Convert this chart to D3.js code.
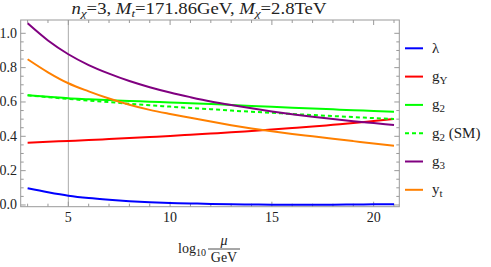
<!DOCTYPE html>
<html>
<head>
<meta charset="utf-8">
<script src="https://cdn.jsdelivr.net/npm/d3@7"></script>
<style>
  body { margin: 0; background: #fff; }
  svg text.lbl { font-family: "Liberation Serif"; }
</style>
</head>
<body>
<svg id="chart" width="491" height="267"></svg>
<script>
// log10(mu/GeV)
var xs = [3, 4, 5, 6, 7, 8, 9, 10, 11, 12, 13, 14, 15, 16, 17, 18, 19, 20, 21];

var lambda = [0.097, 0.074, 0.054, 0.040, 0.030, 0.022, 0.016, 0.012, 0.009, 0.006, 0.004, 0.003, 0.002, 0.002, 0.002, 0.002, 0.003, 0.004, 0.005];
var gY = [0.363, 0.368, 0.373, 0.378, 0.384, 0.390, 0.396, 0.402, 0.409, 0.416, 0.423, 0.431, 0.439, 0.448, 0.457, 0.467, 0.477, 0.489, 0.501];
var g2 = [0.639, 0.630, 0.621, 0.616, 0.611, 0.606, 0.602, 0.597, 0.593, 0.588, 0.583, 0.577, 0.572, 0.567, 0.562, 0.557, 0.552, 0.548, 0.543];
var g2SM = [0.639, 0.628, 0.618, 0.608, 0.599, 0.590, 0.581, 0.573, 0.565, 0.558, 0.550, 0.543, 0.537, 0.530, 0.524, 0.518, 0.512, 0.506, 0.501];
var g3 = [1.058, 0.958, 0.878, 0.815, 0.765, 0.722, 0.686, 0.655, 0.628, 0.603, 0.582, 0.563, 0.545, 0.529, 0.514, 0.501, 0.488, 0.477, 0.466];
var yt = [0.849, 0.773, 0.709, 0.662, 0.620, 0.584, 0.554, 0.530, 0.508, 0.486, 0.465, 0.446, 0.429, 0.414, 0.400, 0.386, 0.372, 0.358, 0.345];

var xTicks = [5, 10, 15, 20];
var yTicks = [0, 0.2, 0.4, 0.6, 0.8, 1.0];

var series = [
  { name: "λ", sub: "", extra: "", values: lambda, color: "#0000ff", dash: null },
  { name: "g", sub: "Y", extra: "", values: gY, color: "#ff0000", dash: null },
  { name: "g", sub: "2", extra: "", values: g2, color: "#00ff00", dash: null },
  { name: "g", sub: "2", extra: " (SM)", values: g2SM, color: "#00ff00", dash: "4,3" },
  { name: "g", sub: "3", extra: "", values: g3, color: "#800080", dash: null },
  { name: "y", sub: "t", extra: "", values: yt, color: "#ff8000", dash: null }
];

var svg = d3.select("#chart"),
  margin = { top: 20, left: 20.7, right: 399.3, bottom: 206.7 };

var x = d3.scaleLinear().domain([2.66, 21.26]).range([margin.left, margin.right]);
var y = d3.scaleLinear().domain([-0.01, 1.0775]).range([margin.bottom, margin.top]);

var frameColor = "#999";
var textColor = "#222";

// grid line at x = 5
svg.append("line")
  .attr("x1", x(5)).attr("x2", x(5))
  .attr("y1", margin.top).attr("y2", margin.bottom)
  .attr("stroke", "#aaa").attr("stroke-width", 1);

// frame ticks (inward, mirrored)
var xMinor = d3.range(3, 22, 1).filter(v => xTicks.indexOf(v) < 0);
var yMinor = d3.range(0, 21, 1).map(v => v * 0.05).filter(v => v % 0.2 > 0.01 && v % 0.2 < 0.19);

function tickLines(vals, len) {
  vals.forEach(function (v) {
    svg.append("line").attr("x1", x(v)).attr("x2", x(v))
      .attr("y1", margin.bottom).attr("y2", margin.bottom - len)
      .attr("stroke", frameColor);
    svg.append("line").attr("x1", x(v)).attr("x2", x(v))
      .attr("y1", margin.top).attr("y2", margin.top + len)
      .attr("stroke", frameColor);
  });
}
function tickLinesY(vals, len) {
  vals.forEach(function (v) {
    svg.append("line").attr("y1", y(v)).attr("y2", y(v))
      .attr("x1", margin.left).attr("x2", margin.left + len)
      .attr("stroke", frameColor);
    svg.append("line").attr("y1", y(v)).attr("y2", y(v))
      .attr("x1", margin.right).attr("x2", margin.right - len)
      .attr("stroke", frameColor);
  });
}
tickLines(xTicks, 5);
tickLines(xMinor, 3);
tickLinesY(yTicks, 5);
tickLinesY(yMinor, 3);

svg.append("rect")
  .attr("x", margin.left).attr("y", margin.top)
  .attr("width", margin.right - margin.left)
  .attr("height", margin.bottom - margin.top)
  .attr("fill", "none").attr("stroke", frameColor);

// tick labels
svg.selectAll(".xlab").data(xTicks).enter().append("text")
  .attr("class", "lbl")
  .attr("x", d => x(d)).attr("y", 222)
  .attr("text-anchor", "middle").attr("font-size", 14).attr("fill", textColor)
  .text(d => d);

svg.selectAll(".ylab").data(yTicks).enter().append("text")
  .attr("class", "lbl")
  .attr("x", 17).attr("y", d => y(d) + 4.5)
  .attr("text-anchor", "end").attr("font-size", 14).attr("fill", textColor)
  .text(d3.format(".1f"));

// curves
var line = d3.line()
  .curve(d3.curveMonotoneX)
  .x((d, i) => x(xs[i]))
  .y(d => y(d));

series.forEach(function (s) {
  svg.append("path")
    .attr("d", line(s.values))
    .attr("fill", "none")
    .attr("stroke", s.color)
    .attr("stroke-width", 2)
    .attr("stroke-dasharray", s.dash);
});

// title (stretched a bit to match the wide glyphs of the original)
var title = svg.append("text").attr("class", "lbl")
  .attr("transform", "translate(199,14) scale(1.17,1)")
  .attr("text-anchor", "middle").attr("font-size", 16).attr("fill", textColor);
title.append("tspan").attr("font-style", "italic").text("n");
title.append("tspan").attr("font-style", "italic").attr("font-size", 11).attr("dy", 3).text("χ");
title.append("tspan").attr("dy", -3).text("=3, ");
title.append("tspan").attr("font-style", "italic").text("M");
title.append("tspan").attr("font-style", "italic").attr("font-size", 11).attr("dy", 3).text("t");
title.append("tspan").attr("dy", -3).text("=171.86GeV, ");
title.append("tspan").attr("font-style", "italic").text("M");
title.append("tspan").attr("font-style", "italic").attr("font-size", 11).attr("dy", 3).text("χ");
title.append("tspan").attr("dy", -3).text("=2.8TeV");

// legend
var legend = svg.append("g");
series.forEach(function (s, i) {
  var ly = 48.3 + i * 28.3;
  legend.append("line")
    .attr("x1", 405).attr("x2", 423)
    .attr("y1", ly).attr("y2", ly)
    .attr("stroke", s.color).attr("stroke-width", 2)
    .attr("stroke-dasharray", s.dash);
  var t = legend.append("text").attr("class", "lbl").attr("x", 432).attr("y", ly + 4.5)
    .attr("font-size", 15).attr("fill", textColor);
  t.append("tspan").text(s.name);
  if (s.sub) t.append("tspan").attr("font-size", 11).attr("dy", 3).text(s.sub);
  if (s.extra) t.append("tspan").attr("dy", -3).text(s.extra);
});

// x axis label: log10 mu / GeV
var xl = svg.append("text").attr("class", "lbl").attr("x", 178).attr("y", 253).attr("font-size", 14).attr("fill", textColor);
xl.append("tspan").text("log");
xl.append("tspan").attr("font-size", 10).attr("dy", 3).text("10");
svg.append("text").attr("class", "lbl").attr("x", 224).attr("y", 245).attr("text-anchor", "middle")
  .attr("font-size", 14).attr("font-style", "italic").attr("fill", textColor).text("μ");
svg.append("line").attr("x1", 208).attr("x2", 240).attr("y1", 249).attr("y2", 249)
  .attr("stroke", textColor).attr("stroke-width", 0.8);
svg.append("text").attr("class", "lbl").attr("x", 224).attr("y", 262).attr("text-anchor", "middle")
  .attr("font-size", 14).attr("fill", textColor).text("GeV");
</script>
</body>
</html>
